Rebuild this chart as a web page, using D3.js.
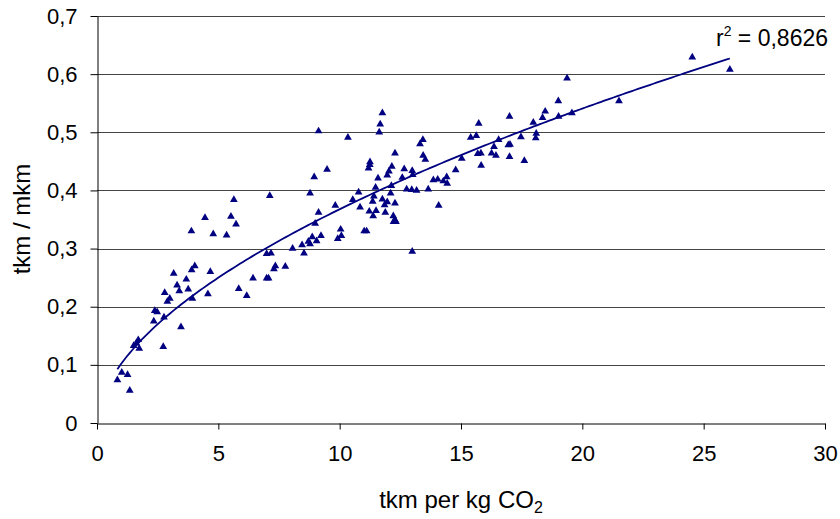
<!DOCTYPE html>
<html>
<head>
<meta charset="utf-8">
<script src="https://cdn.jsdelivr.net/npm/d3@7"></script>
<style>
  html, body { margin: 0; padding: 0; background: #fff; }
  svg text { font-family: "Liberation Sans", Arial, sans-serif; fill: #000; }
</style>
</head>
<body>
<svg id="chart" width="840" height="519"></svg>
<script>
// ---- data ----
const xValues = [
  5.64, 7.12, 4.45, 5.52, 5.73, 3.89, 4.79, 5.34, 6.99, 7.17,
  7.35, 7.29, 7.76, 3.16, 4.03, 3.90, 4.67, 3.68, 3.30, 3.39,
  3.76, 2.79, 3.00, 2.90, 3.93, 4.57, 6.43, 6.99, 7.07, 5.84,
  6.17, 2.38, 2.48, 2.34, 2.76, 3.46, 1.70, 1.62, 1.51, 1.74,
  2.73, 1.02, 1.26, 0.84, 1.35,
  11.76, 11.67, 11.63, 9.13, 10.34, 13.43, 13.31, 12.28, 13.44, 13.53,
  11.25, 11.24, 11.19, 12.15, 12.03, 11.96, 12.66, 12.99, 13.01, 12.58,
  9.48, 8.95, 11.58, 11.48, 12.13, 12.10, 12.76, 12.97, 13.17, 13.65,
  13.86, 14.04, 14.27, 14.41, 14.43, 14.78, 15.03, 15.40, 15.63, 15.73,
  15.69, 8.78, 10.78, 10.54, 10.84, 11.41, 11.36, 11.76, 11.96, 11.85,
  12.28, 9.82, 9.13, 11.22, 11.50, 11.38, 11.88, 12.21, 12.28, 12.32,
  12.22, 14.08, 8.99, 10.04, 10.07, 9.92, 11.01, 11.11, 8.87, 9.23,
  8.71, 9.05, 8.78, 8.45, 8.06, 8.53, 12.99,
  19.37, 19.01, 21.51, 18.47, 18.36, 17.98, 19.02, 19.57, 17.00, 16.55,
  17.47, 18.10, 18.08, 16.36, 17.02, 16.95, 15.82, 16.26, 16.44, 17.00,
  17.61, 15.83, 24.53, 26.08
];
const yValues = [
  0.384, 0.391, 0.353, 0.355, 0.342, 0.330, 0.325, 0.323, 0.291, 0.292,
  0.270, 0.265, 0.269, 0.257, 0.270, 0.263, 0.260, 0.247, 0.237, 0.227,
  0.230, 0.224, 0.214, 0.209, 0.214, 0.222, 0.249, 0.249, 0.249, 0.231,
  0.219, 0.193, 0.191, 0.175, 0.182, 0.165, 0.143, 0.137, 0.133, 0.128,
  0.131, 0.087, 0.083, 0.074, 0.056,
  0.533, 0.514, 0.500, 0.502, 0.491, 0.487, 0.480, 0.464, 0.460, 0.453,
  0.449, 0.444, 0.438, 0.441, 0.433, 0.426, 0.437, 0.434, 0.427, 0.422,
  0.436, 0.423, 0.421, 0.405, 0.408, 0.395, 0.402, 0.401, 0.400, 0.402,
  0.418, 0.419, 0.416, 0.423, 0.412, 0.435, 0.455, 0.491, 0.494, 0.515,
  0.463, 0.395, 0.397, 0.384, 0.371, 0.390, 0.381, 0.385, 0.380, 0.375,
  0.378, 0.374, 0.362, 0.364, 0.365, 0.356, 0.362, 0.356, 0.349, 0.346,
  0.346, 0.374, 0.343, 0.333, 0.322, 0.317, 0.330, 0.330, 0.320, 0.322,
  0.312, 0.313, 0.308, 0.306, 0.300, 0.292, 0.295,
  0.593, 0.554, 0.554, 0.536, 0.525, 0.517, 0.527, 0.533, 0.527, 0.487,
  0.492, 0.498, 0.490, 0.475, 0.479, 0.478, 0.464, 0.464, 0.460, 0.458,
  0.451, 0.443, 0.629, 0.608
];
const xTicks = [0, 5, 10, 15, 20, 25, 30];
const yTicks = [0, 0.1, 0.2, 0.3, 0.4, 0.5, 0.6, 0.7];
const xTitle = "tkm per kg CO";
const xTitleSub = "2";
const yTitle = "tkm / mkm";
const r2Text = " = 0,8626";

// ---- layout ----
const svg = d3.select("#chart");
const x = d3.scaleLinear().domain([0, 30]).range([97, 825]);
const y = d3.scaleLinear().domain([0, 0.7]).range([423, 16]);
const fmt = d => String(d).replace(".", ",");
const navy = "#000080";

// gridlines
svg.append("g")
  .selectAll("line")
  .data(yTicks.filter(d => d > 0))
  .join("line")
  .attr("x1", x(0)).attr("x2", x(30))
  .attr("y1", d => Math.round(y(d)) + 0.5).attr("y2", d => Math.round(y(d)) + 0.5)
  .attr("stroke", "#444").attr("stroke-width", 1);

// y axis
const yAxis = svg.append("g")
  .attr("transform", `translate(${x(0) + 0.5},0)`)
  .call(d3.axisLeft(y).tickValues(yTicks).tickFormat(fmt).tickSize(7).tickSizeOuter(0).tickPadding(13));
yAxis.selectAll("text").style("font-size", "22px").attr("fill", "#000");
yAxis.selectAll("line, path").attr("stroke", "#000");

// x axis
const xAxis = svg.append("g")
  .attr("transform", `translate(0,${Math.round(y(0)) + 0.5})`)
  .call(d3.axisBottom(x).tickValues(xTicks).tickFormat(fmt).tickSize(6).tickSizeOuter(0).tickPadding(16));
xAxis.selectAll("text").style("font-size", "22px").attr("fill", "#000");
xAxis.selectAll("line, path").attr("stroke", "#000");

// power trend line, fitted on the data (log-log least squares)
const lx = xValues.map(Math.log), ly = yValues.map(Math.log);
const mx = d3.mean(lx), my = d3.mean(ly);
const b = d3.sum(lx, (v, i) => (v - mx) * (ly[i] - my)) / d3.sum(lx, v => (v - mx) * (v - mx));
const a = Math.exp(my - b * mx);
const [xmin, xmax] = d3.extent(xValues);
const trendXs = d3.range(0, 201).map(i => xmin + (xmax - xmin) * i / 200);
svg.append("path")
  .datum(trendXs)
  .attr("fill", "none").attr("stroke", navy).attr("stroke-width", 1.8)
  .attr("d", d3.line().x(d => x(d)).y(d => y(a * Math.pow(d, b))));

// points
const pts = xValues.map((v, i) => [v, yValues[i]]);
svg.append("g")
  .selectAll("path")
  .data(pts)
  .join("path")
  .attr("transform", d => `translate(${x(d[0])},${y(d[1])})`)
  .attr("d", d3.symbol(d3.symbolTriangle, 26))
  .attr("fill", navy);

// r^2 label
const r2 = svg.append("text").attr("x", 716).attr("y", 46).style("font-size", "23px");
r2.append("tspan").text("r");
r2.append("tspan").attr("dy", -10).style("font-size", "14px").text("2");
r2.append("tspan").attr("dy", 10).text(r2Text);

// axis titles
const xt = svg.append("text").attr("x", 461).attr("y", 508).attr("text-anchor", "middle").style("font-size", "24px");
xt.append("tspan").text(xTitle);
xt.append("tspan").attr("dy", 5).style("font-size", "16px").text(xTitleSub);

svg.append("text")
  .attr("transform", "translate(30,219) rotate(-90)")
  .attr("text-anchor", "middle").style("font-size", "24px")
  .text(yTitle);
</script>
</body>
</html>
